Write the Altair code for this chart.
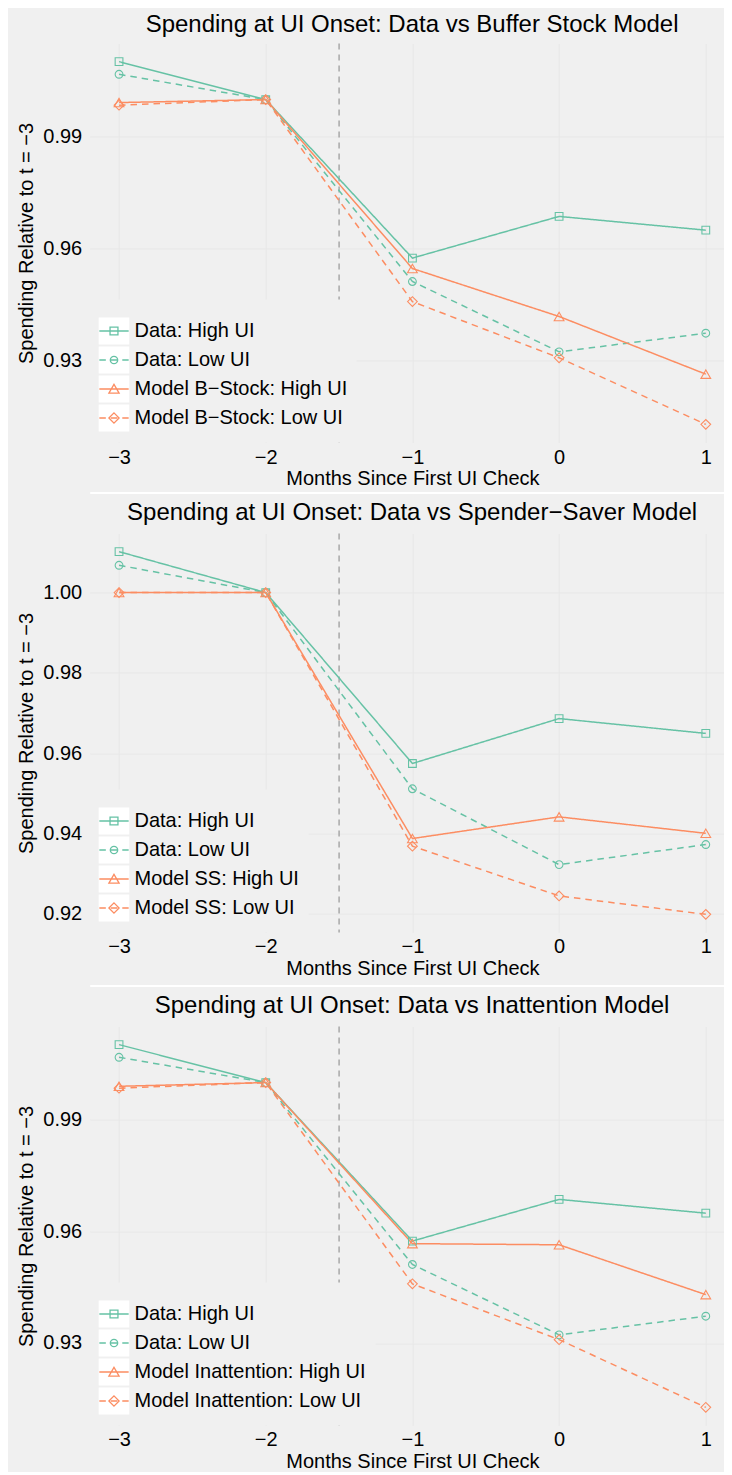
import altair as alt
import pandas as pd

# ---------------- data ----------------
months = [-3, -2, -1, 0, 1]

data_high_ui = [1.0102, 1.0000, 0.9574, 0.9686, 0.9649]
data_low_ui = [1.0068, 1.0000, 0.9511, 0.9322, 0.9372]

bstock_high_ui = [0.9992, 1.0000, 0.9546, 0.9417, 0.9262]
bstock_low_ui = [0.9985, 1.0000, 0.9457, 0.9306, 0.9127]

ss_high_ui = [1.0000, 1.0000, 0.9387, 0.9441, 0.9400]
ss_low_ui = [1.0000, 1.0000, 0.9368, 0.9244, 0.9198]

inatt_high_ui = [0.9990, 1.0000, 0.9567, 0.9564, 0.9430]
inatt_low_ui = [0.9985, 1.0000, 0.9459, 0.9309, 0.9127]

MINUS = "\u2212"
panel_titles = [
    "Spending at UI Onset: Data vs Buffer Stock Model",
    f"Spending at UI Onset: Data vs Spender{MINUS}Saver Model",
    "Spending at UI Onset: Data vs Inattention Model",
]
model_labels = [f"Model B{MINUS}Stock", "Model SS", "Model Inattention"]
y_tick_values = [
    [0.93, 0.96, 0.99],
    [0.92, 0.94, 0.96, 0.98, 1.00],
    [0.93, 0.96, 0.99],
]
onset_line = [-1.5]

x_title = "Months Since First UI Check"
y_title = f"Spending Relative to t = {MINUS}3"

# ---------------- style ----------------
TEAL = "#66C2A5"
ORANGE = "#FC8D62"
BG = "#F0F0F0"
GRID = "#E8E8E8"
FONT = "Liberation Sans"
W = 634
H = 399
X_DOMAIN = [-3.2, 1.122]
LEG_H = 143
TITLE_OFFSETS = [5.5, 8, 8]
SEP_OFFSETS = [50, 53, None]
CENTER_X = 322.7  # centre of the (uncropped) plot frame, from plot left

# legend key glyphs: line + hollow marker, in the symbol box
BOX = "M0,-1M0,1"
DASH = "M-1.15,0H-0.64M-0.25,0H0.26M0.65,0H1.15"
P_SQ = BOX + "M-1.15,0H1.15M-0.31,-0.31H0.31V0.31H-0.31Z"
P_CI = BOX + DASH + "M0.29,0A0.29,0.29,0,1,1,-0.29,0A0.29,0.29,0,1,1,0.29,0Z"
P_TR = BOX + "M-1.15,0H1.15M0,-0.36L0.4,0.33L-0.4,0.33Z"
P_DI = BOX + DASH + "M0,-0.4L0.4,0L0,0.4L-0.4,0Z"
P_KEY = "M-1.15,-1H1.15V1H-1.15Z"   # white key background


def legend_props(y):
    return dict(
        orient="none", legendX=0, legendY=y, direction="vertical",
        title=" ", titleFontSize=9, titlePadding=0,
        padding=9, rowPadding=-4.4, symbolSize=650, symbolStrokeWidth=1.3,
        symbolOffset=1.8, symbolOpacity=1,
        labelFont=FONT, labelFontSize=20, labelColor="black",
        labelOffset=7, labelLimit=500,
    )


def panel(idx, high, low):
    model = model_labels[idx]
    names = ["Data: High UI", "Data: Low UI", f"{model}: High UI", f"{model}: Low UI"]
    keys = ["w_" + n for n in names]
    rows = []
    for name, key, vals in zip(names, keys, [data_high_ui, data_low_ui, high, low]):
        for t, v in zip(months, vals):
            rows.append({"t": t, "value": v, "series": name, "key": key})
    df = pd.DataFrame(rows)

    allv = data_high_ui + data_low_ui + high + low
    lo, hi = min(allv), max(allv)
    pad = 0.05 * (hi - lo)
    ys = alt.Scale(domain=[lo - pad, hi + pad], nice=False, zero=False)
    xs = alt.Scale(domain=X_DOMAIN, nice=False, zero=False)

    y_axis = alt.Axis(values=y_tick_values[idx], format=".2f", title=y_title,
                      grid=True, labelPadding=8, titlePadding=6, ticks=False,
                      domain=False)
    x_axis = alt.Axis(orient="bottom", values=months, title=x_title, grid=True,
                      ticks=False, domain=False, labelPadding=4.5, titlePadding=1.5,
                      titleX=CENTER_X,
                      labelExpr=f"datum.value < 0 ? '{MINUS}' + abs(datum.value) : '' + datum.value")

    color_scale = alt.Scale(domain=names, range=[TEAL, TEAL, ORANGE, ORANGE])
    dash_scale = alt.Scale(domain=names, range=[[1, 0], [6.5, 5], [1, 0], [6.5, 5]])
    shape_scale = alt.Scale(domain=names, range=["square", "circle", "triangle-up", "diamond"])
    key_scale = alt.Scale(domain=names, range=[P_SQ, P_CI, P_TR, P_DI])
    white_scale = alt.Scale(domain=keys, range=["white"] * 4)

    base = alt.Chart(df)
    y_enc = alt.Y("value:Q", scale=ys, axis=y_axis)
    x_none = alt.X("t:Q", scale=xs, axis=None)

    sep = SEP_OFFSETS[idx]
    if sep is None:
        rule_x = alt.X("x:Q", scale=xs, axis=None)
    else:
        rule_x = alt.X("x:Q", scale=xs, axis=alt.Axis(
            orient="bottom", offset=sep, domain=True, domainColor="white",
            domainWidth=2, labels=False, ticks=False, grid=False, title=None))
    rule = alt.Chart(pd.DataFrame({"x": onset_line})).mark_rule(
        color="#8F8F8F", strokeDash=[6, 5], strokeWidth=1.1
    ).encode(x=rule_x)

    lines = base.mark_line(strokeWidth=1.5).encode(
        x=alt.X("t:Q", scale=xs, axis=x_axis),
        y=y_enc,
        color=alt.Color("series:N", scale=color_scale, legend=None),
        strokeDash=alt.StrokeDash("series:N", scale=dash_scale, legend=None),
    )
    pts_data = base.transform_filter(
        alt.FieldOneOfPredicate(field="series", oneOf=names[:2])
    ).mark_point(filled=False, opacity=1, strokeWidth=1.1, size=60).encode(
        x=x_none, y=y_enc,
        color=alt.Color("series:N", scale=color_scale, legend=None),
        shape=alt.Shape("series:N", scale=shape_scale, legend=None),
    )
    pts_model = base.transform_filter(
        alt.FieldOneOfPredicate(field="series", oneOf=names[2:])
    ).mark_point(filled=False, opacity=1, strokeWidth=1.1, size=95).encode(
        x=x_none, y=y_enc,
        color=alt.Color("series:N", scale=color_scale, legend=None),
        shape=alt.Shape("series:N", scale=shape_scale, legend=None),
    )
    lp = legend_props(H - LEG_H)
    leg_main = alt.Legend(zindex=2, **lp)
    legend_layer = base.mark_point(filled=False, opacity=0).encode(
        x=x_none, y=y_enc,
        color=alt.Color("series:N", scale=color_scale, legend=leg_main),
        shape=alt.Shape("series:N", scale=key_scale, legend=leg_main),
    )
    leg_white = alt.Legend(zindex=1, symbolType=P_KEY, symbolStrokeColor="white",
                           fillColor=BG, labelOpacity=0,
                           labelExpr="slice(datum.label, 2)", **lp)
    white_layer = base.mark_square(opacity=0).encode(
        x=x_none, y=y_enc,
        fill=alt.Fill("key:N", scale=white_scale, legend=leg_white),
    )

    return alt.layer(rule, lines, pts_data, pts_model, legend_layer, white_layer).resolve_scale(
        color="independent", shape="independent", fill="independent", strokeDash="independent"
    ).resolve_axis(x="independent").properties(
        width=W, height=H,
        title=alt.Title(panel_titles[idx], dx=5.4, offset=TITLE_OFFSETS[idx]),
    )


p1 = panel(0, bstock_high_ui, bstock_low_ui)
p2 = panel(1, ss_high_ui, ss_low_ui)
p3 = panel(2, inatt_high_ui, inatt_low_ui)

chart = alt.vconcat(p1, p2, p3, spacing=8).properties(
    background=BG,
    padding={"left": 8.7, "top": 4.5, "right": 0, "bottom": 0},
).configure_view(stroke=None).configure_axis(
    labelFont=FONT, labelFontSize=20, labelColor="black",
    titleFont=FONT, titleFontSize=20, titleColor="black", titleFontWeight="normal",
    gridColor=GRID, gridWidth=1,
).configure_title(
    font=FONT, fontSize=24, fontWeight="normal", color="black",
    anchor="middle", frame="group", baseline="alphabetic",
)

chart.save("out.html", embed_options={"renderer": "svg", "actions": False})
